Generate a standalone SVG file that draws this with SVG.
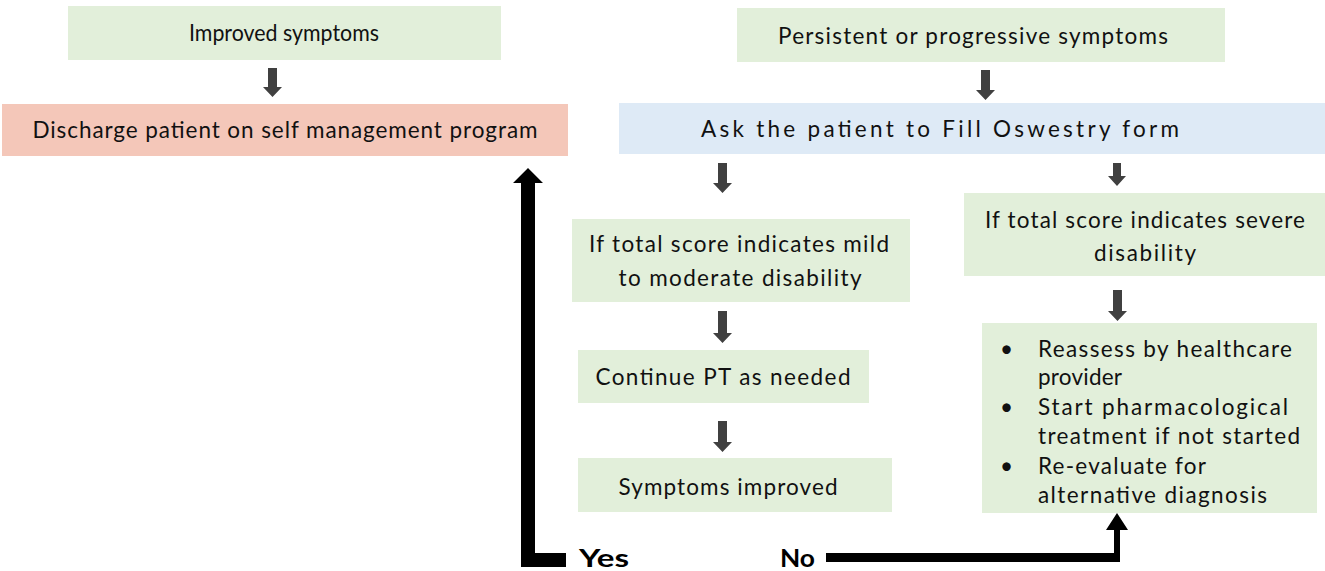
<svg xmlns="http://www.w3.org/2000/svg" width="1325" height="571" viewBox="0 0 1325 571">
<style>
.g{fill:#E2EFDA}
.p{fill:#F4C7B9}
.b{fill:#DEEAF6}
.t{font-family:Lato,"Liberation Sans",sans-serif;font-size:22.5px;fill:#111;text-anchor:middle}
.l{text-anchor:start}
.yn{font-family:Lato,"Liberation Sans",sans-serif;font-size:25px;font-weight:bold;fill:#000}
.ga{fill:#404040}
.ba{fill:#000}
</style>
<rect width="1325" height="571" fill="#fff"/>
<g id="n-improved"><rect class="g" x="68" y="6" width="433" height="54"/><text class="t" x="284" y="41" textLength="190" lengthAdjust="spacingAndGlyphs">Improved symptoms</text></g>
<g id="n-discharge"><rect class="p" x="2" y="104" width="566" height="52"/><text class="t" x="285" y="138" textLength="505" lengthAdjust="spacing">Discharge patient on self management program</text></g>
<g id="n-persistent"><rect class="g" x="737" y="8" width="488" height="54"/><text class="t" x="973" y="44" textLength="390" lengthAdjust="spacing">Persistent or progressive symptoms</text></g>
<g id="n-ask"><rect class="b" x="619" y="103" width="706" height="51"/><text class="t" x="940" y="137" textLength="478" lengthAdjust="spacing">Ask the patient to Fill Oswestry form</text></g>
<g id="n-mild"><rect class="g" x="572" y="219" width="338" height="83"/><text class="t" x="739" y="252" textLength="300" lengthAdjust="spacing">If total score indicates mild</text><text class="t" x="740" y="286" textLength="243" lengthAdjust="spacing">to moderate disability</text></g>
<g id="n-severe"><rect class="g" x="964" y="193" width="361" height="83"/><text class="t" x="1145" y="228" textLength="320" lengthAdjust="spacing">If total score indicates severe</text><text class="t" x="1145" y="261" textLength="102" lengthAdjust="spacing">disability</text></g>
<g id="n-continue"><rect class="g" x="578" y="350" width="291" height="53"/><text class="t" x="723" y="385" textLength="255" lengthAdjust="spacing">Continue PT as needed</text></g>
<g id="n-improved2"><rect class="g" x="578" y="458" width="314" height="54"/><text class="t" x="728" y="495" textLength="219" lengthAdjust="spacing">Symptoms improved</text></g>
<g id="n-actions"><rect class="g" x="982" y="323" width="335" height="190"/>
<text class="t l" x="1000" y="357">•</text><text class="t l" x="1038" y="357" textLength="254" lengthAdjust="spacing">Reassess by healthcare</text>
<text class="t l" x="1038" y="385" textLength="84" lengthAdjust="spacing">provider</text>
<text class="t l" x="1000" y="415">•</text><text class="t l" x="1038" y="415" textLength="250" lengthAdjust="spacing">Start pharmacological</text>
<text class="t l" x="1038" y="444" textLength="262" lengthAdjust="spacing">treatment if not started</text>
<text class="t l" x="1000" y="474">•</text><text class="t l" x="1038" y="474" textLength="168" lengthAdjust="spacing">Re-evaluate for</text>
<text class="t l" x="1038" y="503" textLength="229" lengthAdjust="spacing">alternative diagnosis</text>
</g>
<g id="labels"><text class="yn" x="579" y="567" textLength="50" lengthAdjust="spacingAndGlyphs">Yes</text><text class="yn" x="780" y="567" textLength="35" lengthAdjust="spacingAndGlyphs">No</text></g>
<g id="connectors">
<path class="ga" d="M268 68h9v19h5l-9.5 10l-9.5-10h5z"/>
<path class="ga" d="M981 70h9v20h5l-9.5 10l-9.5-10h5z"/>
<path class="ga" d="M718 163h9v20h5l-9.5 10l-9.5-10h5z"/>
<path class="ga" d="M1113 163h8v13h5l-9 10l-9-10h5z"/>
<path class="ga" d="M718 311h9v22h5l-9.5 10l-9.5-10h5z"/>
<path class="ga" d="M1113 290h9v21h5l-9.5 10l-9.5-10h5z"/>
<path class="ga" d="M718 421h9v21h5l-9.5 10l-9.5-10h5z"/>
<path class="ba" d="M566 553v14h-45v-384h-8l15-15l15 15h-8v370z"/>
<path class="ba" d="M826 562v-9h288v-23h-8l11-17l11 17h-8v32z"/>
</g>
</svg>
